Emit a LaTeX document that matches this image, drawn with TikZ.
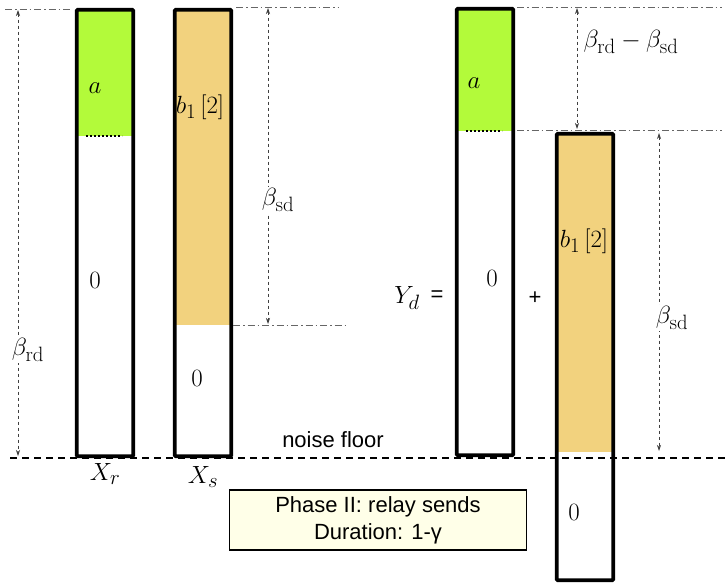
\documentclass[tikz,border=0pt]{standalone}
\usepackage{fontspec}
\newfontfamily\sansf{Liberation Sans}
\usetikzlibrary{arrows.meta}
\definecolor{lime}{HTML}{B3FA3A}
\definecolor{sand}{HTML}{F2D27E}
\definecolor{cream}{HTML}{FFFFE8}
\tikzset{
 bar/.style={draw, line width=3.6pt, minimum width=56.5pt, minimum height=446.5pt, inner sep=0pt, rounded corners=1pt},
 guide/.style={black!60, line width=0.7pt, dash pattern=on 7pt off 3pt on 1.5pt off 3pt},
 dim/.style={black!75, line width=0.7pt, dashed, {Stealth[length=6pt,width=4pt]}-{Stealth[length=6pt,width=4pt]}},
 mlbl/.style={font=\fontsize{24.88}{30}\selectfont, inner sep=0pt},
 slbl/.style={font=\sansf\fontsize{22}{26}\selectfont, inner sep=0pt},
 floor/.style={line width=1.4pt, dash pattern=on 7pt off 5pt},
}
\begin{document}
\begin{tikzpicture}[x=1pt,y=-1pt]
\useasboundingbox (0,0) rectangle (727,587);
% fills
\fill[lime] (76,10) rectangle (134,136);
\fill[sand] (174,10) rectangle (232,325);
\fill[lime] (456,9) rectangle (514,131);
\fill[sand] (556,134) rectangle (614,452);
% noise floor
\coordinate (nfL) at (10,458);
\coordinate (nfR) at (727,458);
\draw[floor] (nfL) -- (nfR);
% bars
\node[bar] (Xr) at (105,233) {};
\node[bar] (Xs) at (203,233) {};
\node[bar] (Yd) at (485,232) {};
\node[bar] (B) at (585,357) {};
% dotted boundaries
\coordinate (d1a) at (86,136); \coordinate (d1b) at (122,136);
\coordinate (d2a) at (466,131); \coordinate (d2b) at (502,131);
\draw[line width=2pt, dotted] (d1a) -- (d1b);
\draw[line width=2pt, dotted] (d2a) -- (d2b);
% guide lines
\coordinate (g1a) at (5,9); \coordinate (g1b) at (70,9);
\coordinate (g2a) at (236,7); \coordinate (g2b) at (338,7);
\coordinate (g3a) at (233,325); \coordinate (g3b) at (345,325);
\coordinate (g4a) at (517,7); \coordinate (g4b) at (722,7);
\coordinate (g5a) at (517,130); \coordinate (g5b) at (722,130);
\draw[guide] (g1a) -- (g1b);
\draw[guide] (g2a) -- (g2b);
\draw[guide] (g3a) -- (g3b);
\draw[guide] (g4a) -- (g4b);
\draw[guide] (g5a) -- (g5b);
% dimension arrows
\coordinate (a1t) at (18,10); \coordinate (a1b) at (18,456);
\coordinate (a2t) at (268,8); \coordinate (a2b) at (268,324);
\coordinate (a3t) at (577,8); \coordinate (a3b) at (577,129);
\coordinate (a4t) at (659,133); \coordinate (a4b) at (659,451);
\draw[dim] (a1t) -- (a1b);
\draw[dim] (a2t) -- (a2b);
\draw[dim] (a3t) -- (a3b);
\draw[dim] (a4t) -- (a4b);
% dimension labels
\node[mlbl, fill=white, inner sep=1pt] (lrd) at (28,350) {$\beta_{\mathrm{rd}}$};
\node[mlbl, fill=white, inner sep=1pt] (lsd1) at (278,200) {$\beta_{\mathrm{sd}}$};
\node[mlbl] (ldiff) at (631,42) {$\beta_{\mathrm{rd}}-\beta_{\mathrm{sd}}$};
\node[mlbl, fill=white, inner sep=1pt] (lsd2) at (672,318) {$\beta_{\mathrm{sd}}$};
% bar contents
\node[mlbl] (a1) at (95,88) {$a$};
\node[mlbl] (z1) at (95,280) {$0$};
\node[mlbl] (b1) at (200,107) {$b_1\,[2]$};
\node[mlbl] (z2) at (197,378) {$0$};
\node[mlbl] (a2) at (474,83) {$a$};
\node[mlbl] (z3) at (492,278) {$0$};
\node[mlbl] (b2) at (584,241) {$b_1\,[2]$};
\node[mlbl] (z4) at (574,512) {$0$};
% names
\node[mlbl] (nXr) at (105,474) {$X_r$};
\node[mlbl] (nXs) at (203,477) {$X_s$};
\node[mlbl] (nYd) at (407,298) {$Y_d$};
\node[slbl] (eq) at (437,296) {=};
\node[slbl] (plus) at (535,298) {+};
\node[slbl] (nf) at (333,440) {noise floor};
% phase box
\node[draw, fill=cream, line width=1.5pt, minimum width=297pt, minimum height=60pt, align=center,
      font=\sansf\fontsize{22}{27}\selectfont] (phase) at (378,520)
  {Phase II: relay sends\\Duration: 1-γ};
\end{tikzpicture}
\end{document}
